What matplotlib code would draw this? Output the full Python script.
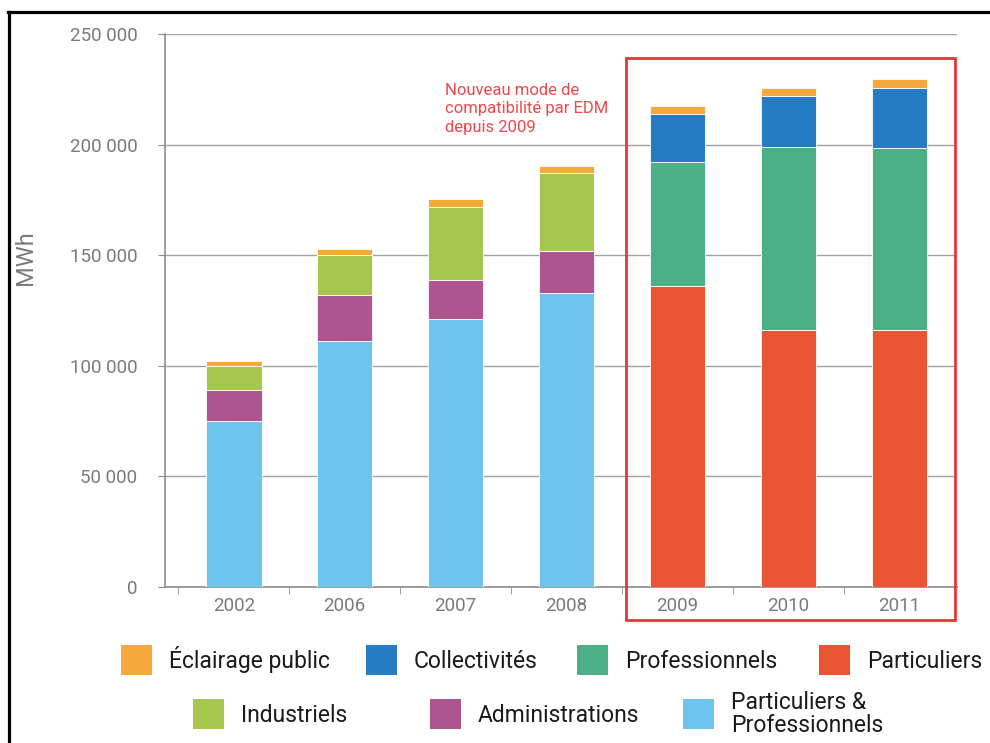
import matplotlib.pyplot as plt
import matplotlib.patches as mpatches
from matplotlib.lines import Line2D
import numpy as np

plt.rcParams['font.family'] = ['Roboto', 'DejaVu Sans']

# Data (MWh)
years = ['2002', '2006', '2007', '2008', '2009', '2010', '2011']
part_prof = [75000, 111000, 121000, 133000, 0, 0, 0]
particuliers = [0, 0, 0, 0, 136000, 116300, 116300]
administrations = [14000, 21000, 18000, 19000, 0, 0, 0]
professionnels = [0, 0, 0, 0, 56000, 82500, 82300]
industriels = [11000, 18000, 33000, 35000, 0, 0, 0]
collectivites = [0, 0, 0, 0, 21800, 23000, 27000]
eclairage = [2000, 3000, 3300, 3500, 3700, 3900, 3900]

yticks = [0, 50000, 100000, 150000, 200000, 250000]
ytick_labels = ['0', '50 000', '100 000', '150 000', '200 000', '250 000']

note = 'Nouveau mode de\ncompatibilité par EDM\ndepuis 2009'

colors = {
    'Particuliers & Professionnels': '#6FC4EE',
    'Particuliers': '#E85532',
    'Administrations': '#AD5491',
    'Professionnels': '#4DAF88',
    'Industriels': '#A5C74E',
    'Collectivités': '#267BC3',
    'Éclairage public': '#F5A83B',
}
stack = [
    ('Particuliers & Professionnels', part_prof),
    ('Particuliers', particuliers),
    ('Administrations', administrations),
    ('Professionnels', professionnels),
    ('Industriels', industriels),
    ('Collectivités', collectivites),
    ('Éclairage public', eclairage),
]

fig = plt.figure(figsize=(9.9, 7.43), dpi=100)
ax = fig.add_axes([0.1667, 0.2100, 0.8000, 0.7442])

x = np.arange(len(years))
bottom = np.zeros(len(years))
for name, vals in stack:
    vals = np.array(vals, dtype=float)
    ax.bar(x, vals, width=0.5, bottom=bottom, color=colors[name],
           edgecolor='white', linewidth=0.6, zorder=3)
    bottom += vals

grey = '#8c8c8c'
ax.set_xlim(-0.62, 6.52)
ax.set_ylim(0, 250000)
ax.set_yticks(yticks)
ax.set_yticklabels(ytick_labels)
ax.grid(axis='y', color='#a0a0a0', linewidth=1, zorder=0)
ax.set_xticks(x)
ax.set_xticklabels(years)
ax.set_xticks(np.arange(-0.5, 6.5, 1), minor=True)
ax.tick_params(axis='x', which='major', length=0, pad=7, labelsize=13.5, labelcolor='#7a7a7a')
ax.tick_params(axis='x', which='minor', length=5, color=grey, direction='out')
ax.tick_params(axis='y', length=5, color=grey, labelsize=13.5, labelcolor='#7a7a7a', pad=15)
for s in ['top', 'right']:
    ax.spines[s].set_visible(False)
for s in ['left', 'bottom']:
    ax.spines[s].set_color(grey)
    ax.spines[s].set_linewidth(1.2)
ax.set_ylabel('MWh', fontsize=17, color='#7a7a7a')
ax.yaxis.set_label_coords(-0.162, 0.595)

ax.text(0.353, 0.912, note, transform=ax.transAxes, color='#F0474A',
        fontsize=12, va='top', ha='left', linespacing=1.3)

# red frame around 2009-2011
fig.patches.append(mpatches.Rectangle((0.6323, 0.1655), 0.3323, 0.7564,
                                      transform=fig.transFigure, fill=False,
                                      edgecolor='#EE3333', linewidth=2))

# black border top/left
fig.lines.append(Line2D([0.009, 0.009], [0, 0.984], transform=fig.transFigure, color='black', linewidth=2.3))
fig.lines.append(Line2D([0.008, 1.0], [0.984, 0.984], transform=fig.transFigure, color='black', linewidth=2.3))

# legend, laid out like the original
W, H = 990, 743
legend_items = [
    ('Éclairage public', 121, 660),
    ('Collectivités', 366, 660),
    ('Professionnels', 577, 660),
    ('Particuliers', 819, 660),
    ('Industriels', 193, 714),
    ('Administrations', 430, 714),
    ('Particuliers &\nProfessionnels', 683, 714),
]
for label, px, py in legend_items:
    key = label.replace('\n', ' ')
    fig.patches.append(mpatches.Rectangle((px / W, 1 - (py + 15) / H), 31 / W, 30 / H,
                                          transform=fig.transFigure,
                                          facecolor=colors[key], edgecolor='none'))
    if '\n' in label:
        fig.text((px + 48) / W, 1 - py / H, label, fontsize=16.5, color='#1a1a1a',
                 va='center', ha='left', linespacing=1.0)
    else:
        fig.text((px + 48) / W, 1 - (py + 8) / H, label, fontsize=16.5, color='#1a1a1a',
                 va='baseline', ha='left')

fig.savefig('out.png', dpi=100)
